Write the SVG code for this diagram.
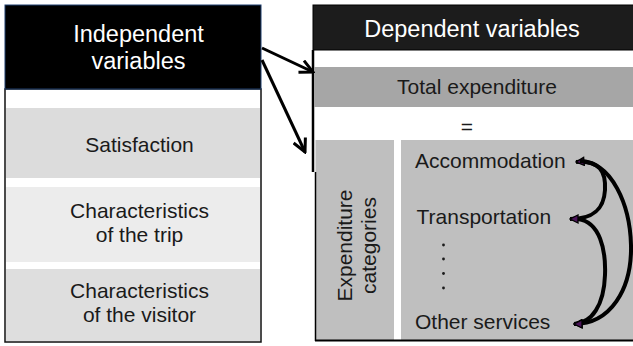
<svg xmlns="http://www.w3.org/2000/svg" width="633" height="346" viewBox="0 0 633 346">
<style>
text{font-family:"Liberation Sans",Arial,sans-serif;fill:#1a1a1a}
.hd{font-size:23.5px;fill:#fff;text-anchor:middle}
.bd{font-size:21px}
.c{text-anchor:middle}
.arr{fill:none;stroke:#000;stroke-width:3}
.crv{fill:none;stroke:#000;stroke-width:4}
</style>
<defs>
<marker id="vh" markerUnits="userSpaceOnUse" viewBox="0 0 16 16" markerWidth="16" markerHeight="16" refX="14" refY="8" orient="auto">
<path d="M1,1.5 L14,8 L1,14.5" fill="none" stroke="#000" stroke-width="3"/>
</marker>
<marker id="th" markerUnits="userSpaceOnUse" viewBox="0 0 10 10" markerWidth="10" markerHeight="10" refX="9" refY="5" orient="auto-start-reverse">
<path d="M1,1 L9,5 L1,9 z" fill="#4a1458" stroke="#000" stroke-width="1.3"/>
</marker>
</defs>

<g id="independent">
<rect x="5" y="89" width="256" height="253" fill="#fff" stroke="#111" stroke-width="1.5"/>
<rect x="5" y="5" width="256" height="84" fill="#000" stroke="#1f3f6f" stroke-width="1"/>
<text class="hd" x="138.5" y="42">Independent</text>
<text class="hd" x="138.5" y="69">variables</text>
</g>
<g id="satisfaction">
<rect x="6" y="108" width="254" height="70" fill="#dcdcdc"/>
<text class="bd c" x="139.5" y="152">Satisfaction</text>
</g>
<g id="trip">
<rect x="6" y="187" width="254" height="75" fill="#ececec"/>
<text class="bd c" x="139.5" y="218">Characteristics</text>
<text class="bd c" x="139.5" y="242">of the trip</text>
</g>
<g id="visitor">
<rect x="6" y="269" width="254" height="72" fill="#dedede"/>
<text class="bd c" x="139.5" y="298">Characteristics</text>
<text class="bd c" x="139.5" y="322">of the visitor</text>
</g>

<g id="dependent">
<rect x="313" y="5" width="321" height="45" fill="#1c1c1c" stroke="#000" stroke-width="1"/>
<text class="hd" x="472" y="37">Dependent variables</text>
<line x1="313" y1="50" x2="313" y2="172" stroke="#000" stroke-width="2.5"/>
</g>
<g id="total">
<rect x="314" y="67" width="319" height="40" fill="#a6a6a6"/>
<text class="bd c" x="477" y="94">Total expenditure</text>
<text class="bd c" x="467" y="134">=</text>
</g>
<g id="categories-label">
<rect x="315.5" y="140" width="78.5" height="200" fill="#bfbfbf"/>
<line x1="315.5" y1="172" x2="315.5" y2="341" stroke="#000" stroke-width="1.5"/>
<text class="bd c" transform="translate(352,245.5) rotate(-90)">Expenditure</text>
<text class="bd c" transform="translate(376,245.5) rotate(-90)">categories</text>
</g>
<g id="categories">
<rect x="401" y="140" width="232" height="200" fill="#bfbfbf"/>
<line x1="315" y1="340.5" x2="633" y2="340.5" stroke="#000" stroke-width="2"/>
<text class="bd" x="415" y="168">Accommodation</text>
<text class="bd" x="416.5" y="224">Transportation</text>
<g id="dots" fill="#1a1a1a">
<circle cx="443.5" cy="245" r="1.4"/>
<circle cx="443.5" cy="259" r="1.4"/>
<circle cx="443.5" cy="273.5" r="1.4"/>
<circle cx="443.5" cy="288" r="1.4"/>
</g>
<text class="bd" x="415" y="329">Other services</text>
</g>

<g id="connectors">
<line class="arr" x1="262" y1="48" x2="313" y2="72" marker-end="url(#vh)"/>
<line class="arr" x1="262" y1="60" x2="305" y2="152" marker-end="url(#vh)"/>
<path class="crv" d="M576,162 C600,160 606,172 605,190 C604,207 596,219 570,219" marker-start="url(#th)" marker-end="url(#th)"/>
<path class="crv" d="M578,219 C600,222 606,250 605,275 C604,305 592,323 574,324" marker-end="url(#th)"/>
<path class="crv" d="M580,161 C612,162 630,205 631,245 C632,290 610,324 574,324" marker-end="url(#th)"/>
</g>
</svg>
